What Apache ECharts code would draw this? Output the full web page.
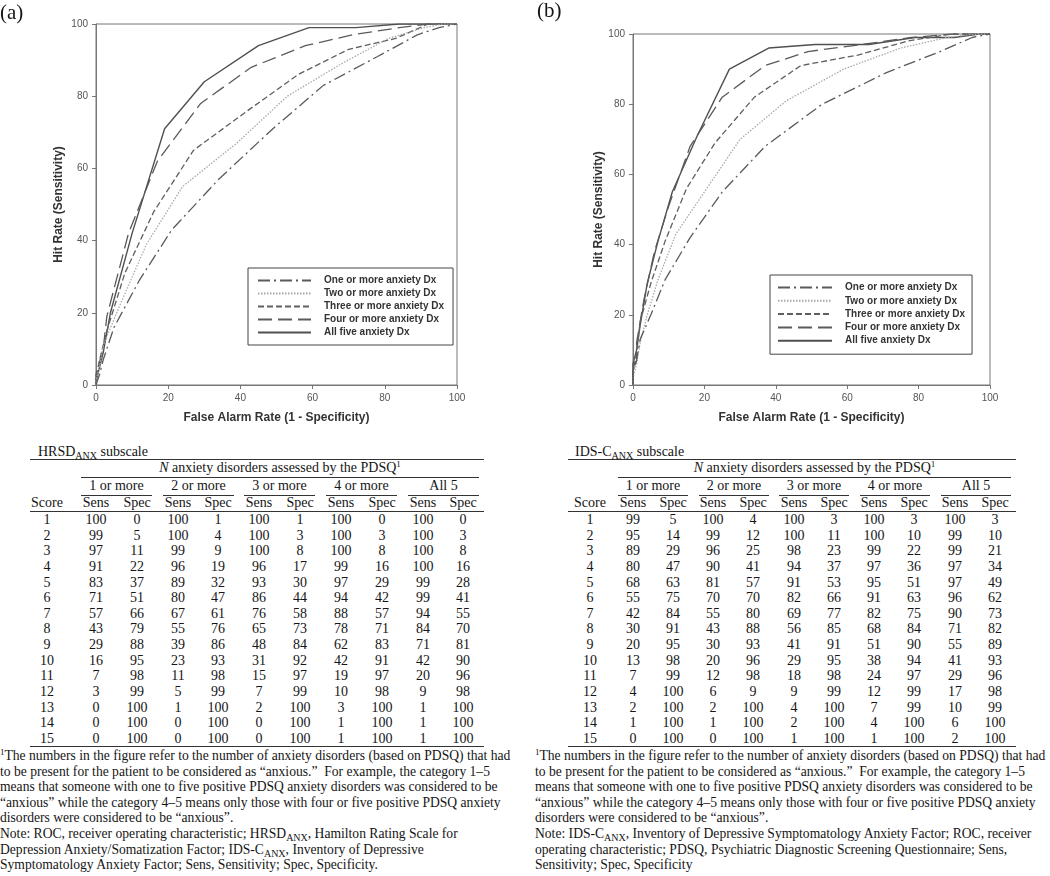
<!DOCTYPE html>
<html><head><meta charset="utf-8">
<script src="https://cdn.jsdelivr.net/npm/echarts@6/dist/echarts.min.js"></script>
<style>
html,body{margin:0;padding:0;background:#fff;}
body{width:1050px;height:876px;position:relative;overflow:hidden;font-family:'Liberation Serif','Times New Roman',serif;color:#151515;}
#chart{position:absolute;left:0;top:0;width:1050px;height:432px;}
.t{position:absolute;white-space:nowrap;font-size:14px;line-height:16px;}
.t.f{font-size:13.6px;}
.c{transform:translate(-50%,-50%);}
.l{transform:translateY(-50%);}
.rule{position:absolute;height:1px;background:#333;}
sub{font-size:10px;line-height:0;vertical-align:-3px;}
sup{font-size:9px;line-height:0;vertical-align:5px;}
.panel{position:absolute;font-size:21px;line-height:22px;}
</style></head>
<body>
<div id="chart"></div>
<div class="panel" style="left:0;top:1px;">(a)</div>
<div class="panel" style="left:537px;top:-1px;">(b)</div>
<div id="tables"></div>
<script>
// ---------------- DATA ----------------
const seriesNames = ['One or more anxiety Dx','Two or more anxiety Dx','Three or more anxiety Dx','Four or more anxiety Dx','All five anxiety Dx'];
const groupLabels = ['1 or more','2 or more','3 or more','4 or more','All 5'];
const scores = [1,2,3,4,5,6,7,8,9,10,11,12,13,14,15];
const xTicks = [0,20,40,60,80,100];

// HRSD-ANX subscale (panel a)
const hrsdSens1 = [100,99,97,91,83,71,57,43,29,16,7,3,0,0,0];
const hrsdSpec1 = [0,5,11,22,37,51,66,79,88,95,98,99,100,100,100];
const hrsdSens2 = [100,100,99,96,89,80,67,55,39,23,11,5,1,0,0];
const hrsdSpec2 = [1,4,9,19,32,47,61,76,86,93,98,99,100,100,100];
const hrsdSens3 = [100,100,100,96,93,86,76,65,48,31,15,7,2,0,0];
const hrsdSpec3 = [1,3,8,17,30,44,58,73,84,92,97,99,100,100,100];
const hrsdSens4 = [100,100,100,99,97,94,88,78,62,42,19,10,3,1,1];
const hrsdSpec4 = [0,3,8,16,29,42,57,71,83,91,97,98,100,100,100];
const hrsdSens5 = [100,100,100,100,99,99,94,84,71,42,20,9,1,1,1];
const hrsdSpec5 = [0,3,8,16,28,41,55,70,81,90,96,98,100,100,100];

// IDS-C-ANX subscale (panel b)
const idsSens1 = [99,95,89,80,68,55,42,30,20,13,7,4,2,1,0];
const idsSpec1 = [5,14,29,47,63,75,84,91,95,98,99,100,100,100,100];
const idsSens2 = [100,99,96,90,81,70,55,43,30,20,12,6,2,1,0];
const idsSpec2 = [4,12,25,41,57,70,80,88,93,96,98,99,100,100,100];
const idsSens3 = [100,100,98,94,91,82,69,56,41,29,18,9,4,2,1];
const idsSpec3 = [3,11,23,37,53,66,77,85,91,95,98,99,100,100,100];
const idsSens4 = [100,100,99,97,95,91,82,68,51,38,24,12,7,4,1];
const idsSpec4 = [3,10,22,36,51,63,75,84,90,94,97,99,99,100,100];
const idsSens5 = [100,99,99,97,97,96,90,71,55,41,29,17,10,6,2];
const idsSpec5 = [3,10,21,34,49,62,73,82,89,93,96,98,99,100,100];
// the printed table shows "9" for IDS 2-or-more, score 12 (the curve uses 99)
const printedOverrides = {'ids-2-spec-11':'9'};

// ROC curve anchors
const rocStart = [0,0];
const rocEnd = [100,100];

const hrsdSens = [hrsdSens1,hrsdSens2,hrsdSens3,hrsdSens4,hrsdSens5];
const hrsdSpec = [hrsdSpec1,hrsdSpec2,hrsdSpec3,hrsdSpec4,hrsdSpec5];
const idsSens = [idsSens1,idsSens2,idsSens3,idsSens4,idsSens5];
const idsSpec = [idsSpec1,idsSpec2,idsSpec3,idsSpec4,idsSpec5];

// ---------------- CHART ----------------
function rocPoints(sens, spec){
  const pts = [rocStart.slice()];
  for(let i=sens.length-1;i>=0;i--) pts.push([100-spec[i], sens[i]]);
  pts.push(rocEnd.slice());
  return pts;
}
const styles = [
  {color:'#5a5a5a', width:1.3, type:[12,4,2,4]},
  {color:'#a8a8a8', width:1.3, type:[1.5,1.5]},
  {color:'#5f5f5f', width:1.3, type:[6,3]},
  {color:'#5a5a5a', width:1.3, type:[14,6]},
  {color:'#505050', width:1.4, type:'solid'}
];
const font = 'Liberation Sans, Arial, sans-serif';
const axisCommon = {
  type:'value', min:0, max:100, interval:20,
  nameLocation:'middle',
  nameTextStyle:{fontWeight:'bold', fontSize:12, color:'#333', fontFamily:font},
  axisLine:{show:true, lineStyle:{color:'#777', width:1}},
  axisTick:{show:true, inside:false, length:4, lineStyle:{color:'#777'}},
  axisLabel:{fontSize:10, color:'#555', margin:8, fontFamily:font},
  splitLine:{show:false}
};
const series = [];
[hrsdSens, idsSens].forEach((sensSet, g) => {
  const specSet = g===0 ? hrsdSpec : idsSpec;
  sensSet.forEach((sens, k) => {
    series.push({
      type:'line', name:seriesNames[k], xAxisIndex:g, yAxisIndex:g,
      data: rocPoints(sens, specSet[k]), symbol:'none', showSymbol:false,
      lineStyle: styles[k], itemStyle:{color:styles[k].color}, z: 10-k
    });
  });
});
const legendCommon = {
  orient:'vertical', itemWidth:53, itemHeight:13, itemGap:0, selectedMode:false,
  borderColor:'#444', borderWidth:1, borderRadius:0,
  itemStyle:{opacity:0, borderWidth:0},
  textStyle:{fontSize:10, fontWeight:'bold', color:'#333', fontFamily:font, padding:[0,0,0,8], lineHeight:13},
  data: seriesNames
};
const chart = echarts.init(document.getElementById('chart'), null, {renderer:'canvas'});
chart.setOption({
  animation:false,
  grid:[
    {left:96, top:24, width:361, height:361, show:true, borderColor:'#777', borderWidth:1, backgroundColor:'transparent'},
    {left:633, top:34, width:357, height:351, show:true, borderColor:'#777', borderWidth:1, backgroundColor:'transparent'}
  ],
  xAxis:[
    Object.assign({}, axisCommon, {gridIndex:0, name:'False Alarm Rate (1 - Specificity)', nameGap:27}),
    Object.assign({}, axisCommon, {gridIndex:1, name:'False Alarm Rate (1 - Specificity)', nameGap:27})
  ],
  yAxis:[
    Object.assign({}, axisCommon, {gridIndex:0, name:'Hit Rate (Sensitivity)', nameGap:31}),
    Object.assign({}, axisCommon, {gridIndex:1, name:'Hit Rate (Sensitivity)', nameGap:27})
  ],
  legend:[
    Object.assign({}, legendCommon, {left:248, top:268, padding:[6,9,6,9]}),
    Object.assign({}, legendCommon, {left:770, top:275, padding:[6,7,7,7], itemWidth:54, itemGap:0.3})
  ],
  series: series
});

// ---------------- TABLES ----------------
const tables = [
  {key:'hrsd', title:'HRSD<sub>ANX</sub> subscale', titleX:38, ruleL:30, ruleR:484, subL:81,
   cols:[47,96,137,178,218,259,300,341,382,423,463], groupL:[81,163,244,326,408], groupW:71,
   sens:hrsdSens, spec:hrsdSpec,
   foot:[
     '<sup>1</sup>The numbers in the figure refer to the number of anxiety disorders (based on PDSQ) that had',
     'to be present for the patient to be considered as \u201canxious.\u201d&nbsp; For example, the category 1\u20135',
     'means that someone with one to five positive PDSQ anxiety disorders was considered to be',
     '\u201canxious\u201d while the category 4\u20135 means only those with four or five positive PDSQ anxiety',
     'disorders were considered to be \u201canxious\u201d.',
     'Note: ROC, receiver operating characteristic; HRSD<sub>ANX</sub>, Hamilton Rating Scale for',
     'Depression Anxiety/Somatization Factor; IDS-C<sub>ANX</sub>, Inventory of Depressive',
     'Symptomatology Anxiety Factor; Sens, Sensitivity; Spec, Specificity.'
   ], footX:0},
  {key:'ids', title:'IDS-C<sub>ANX</sub> subscale', titleX:575, ruleL:568, ruleR:1016, subL:618,
   cols:[590,633,673,713,753,794,834,874,914,955,995], groupL:[618,699,779,860,941], groupW:70,
   sens:idsSens, spec:idsSpec,
   foot:[
     '<sup>1</sup>The numbers in the figure refer to the number of anxiety disorders (based on PDSQ) that had',
     'to be present for the patient to be considered as \u201canxious.\u201d&nbsp; For example, the category 1\u20135',
     'means that someone with one to five positive PDSQ anxiety disorders was considered to be',
     '\u201canxious\u201d while the category 4\u20135 means only those with four or five positive PDSQ anxiety',
     'disorders were considered to be \u201canxious\u201d.',
     'Note: IDS-C<sub>ANX</sub>, Inventory of Depressive Symptomatology Anxiety Factor; ROC, receiver',
     'operating characteristic; PDSQ, Psychiatric Diagnostic Screening Questionnaire; Sens,',
     'Sensitivity; Spec, Specificity'
   ], footX:535}
];
const host = document.getElementById('tables');
function txt(html, x, y, cls){
  const d = document.createElement('div');
  d.className = 't ' + cls; d.innerHTML = html;
  d.style.left = x + 'px'; d.style.top = y + 'px';
  host.appendChild(d); return d;
}
function rule(x1, x2, y){
  const d = document.createElement('div');
  d.className = 'rule'; d.style.left = x1+'px'; d.style.width = (x2-x1)+'px'; d.style.top = y+'px';
  host.appendChild(d);
}
const rowY0 = 520, rowStep = 15.64;
tables.forEach(T => {
  txt(T.title, T.titleX, 452, 'l');
  rule(T.ruleL, T.ruleR, 459);
  txt('<i>N</i> anxiety disorders assessed by the PDSQ<sup>1</sup>', (T.subL + T.groupL[4] + T.groupW)/2, 468, 'c');
  rule(T.subL, T.groupL[4] + T.groupW, 477);
  groupLabels.forEach((g, k) => {
    txt(g, T.groupL[k] + T.groupW/2, 486, 'c');
    rule(T.groupL[k], T.groupL[k] + T.groupW, 495);
  });
  txt('Score', T.cols[0], 503, 'c');
  groupLabels.forEach((g, k) => {
    txt('Sens', T.cols[1+2*k], 503, 'c');
    txt('Spec', T.cols[2+2*k], 503, 'c');
  });
  rule(T.ruleL, T.ruleR, 511);
  scores.forEach((s, i) => {
    const y = rowY0 + i*rowStep;
    txt(String(s), T.cols[0], y, 'c');
    for(let k=0;k<5;k++){
      txt(String(T.sens[k][i]), T.cols[1+2*k], y, 'c');
      const ov = printedOverrides[T.key+'-'+(k+1)+'-spec-'+i];
      txt(ov !== undefined ? ov : String(T.spec[k][i]), T.cols[2+2*k], y, 'c');
    }
  });
  rule(T.ruleL, T.ruleR, 746);
  T.foot.forEach((line, j) => {
    txt(line, T.footX, 756 + j*15.6, 'l f');
  });
});
</script>
</body></html>
